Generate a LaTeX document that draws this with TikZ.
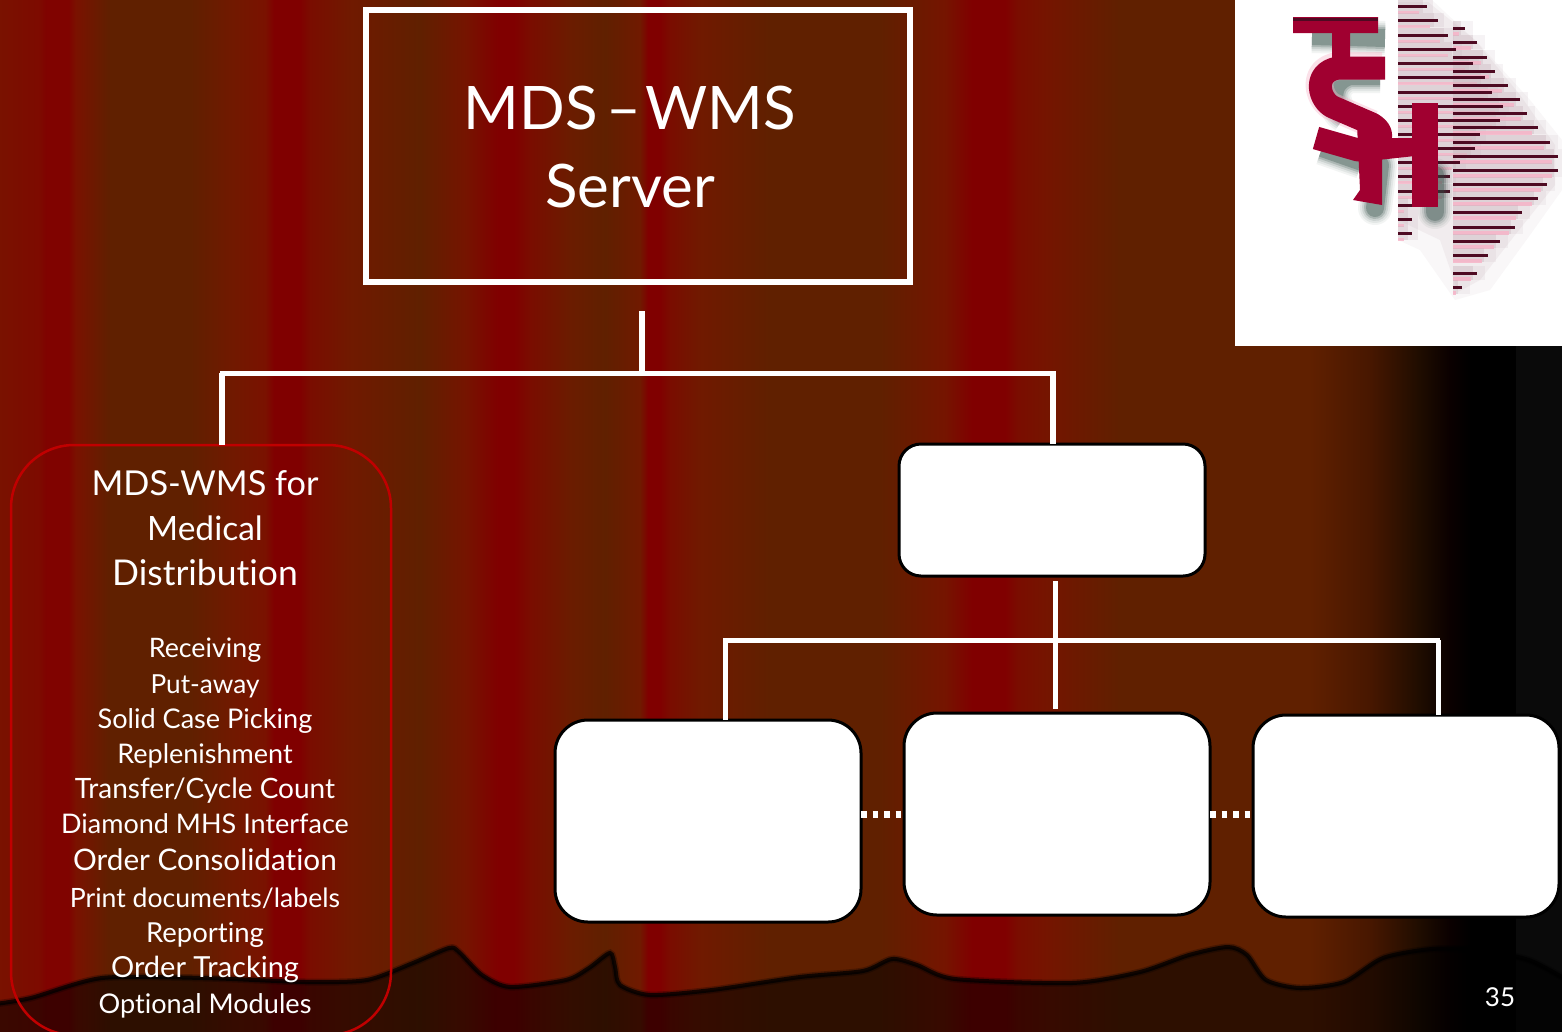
\documentclass[tikz,border=0pt]{standalone}
\usepackage{fontspec}
\setmainfont{Lato}[Ligatures=NoCommon]
\pgfdeclarehorizontalshading{curtain}{1031pt}{
rgb(0pt)=(.478,.07,0);rgb(40pt)=(.49,.04,0);rgb(46pt)=(.50,.01,0);rgb(68pt)=(.50,.01,0);rgb(76pt)=(.478,.07,0);rgb(110pt)=(.376,.125,0);rgb(190pt)=(.376,.125,0);rgb(230pt)=(.44,.10,0);rgb(265pt)=(.478,.07,0);rgb(274pt)=(.502,0,0);rgb(300pt)=(.502,0,0);rgb(310pt)=(.478,.05,0);rgb(350pt)=(.44,.10,0);rgb(420pt)=(.376,.125,0);rgb(465pt)=(.46,.08,0);rgb(498pt)=(.502,0,0);rgb(514pt)=(.502,0,0);rgb(530pt)=(.478,.05,0);rgb(570pt)=(.42,.11,0);rgb(605pt)=(.376,.125,0);rgb(640pt)=(.44,.10,0);rgb(648pt)=(.502,0,0);rgb(660pt)=(.502,0,0);rgb(670pt)=(.478,.05,0);rgb(700pt)=(.44,.10,0);rgb(770pt)=(.376,.125,0);rgb(880pt)=(.376,.125,0);rgb(945pt)=(.46,.08,0);rgb(972pt)=(.502,0,0);rgb(1005pt)=(.502,0,0);rgb(1018pt)=(.478,.05,0);rgb(1045pt)=(.46,.08,0);rgb(1120pt)=(.376,.125,0);rgb(1310pt)=(.376,.125,0);rgb(1370pt)=(.28,.09,0);rgb(1420pt)=(.12,.05,0);rgb(1450pt)=(.04,0,0);rgb(1470pt)=(0,0,0);rgb(1515pt)=(0,0,0);rgb(1516pt)=(.04,.04,.04);rgb(1562pt)=(.04,.04,.04)}
\definecolor{tsired}{HTML}{A00030}
\definecolor{tsidark}{HTML}{4E0A22}
\definecolor{tsipink}{HTML}{F7B4C8}
\definecolor{tsigray}{HTML}{C8B4BC}
\definecolor{tsishadow}{HTML}{2E4A42}
\tikzset{
 every node/.style={outer sep=0},
 conn/.style={draw=white,line width=5pt},
 bigconn/.style={draw=white,line width=6pt},
 dotconn/.style={draw=white,line width=7pt,dash pattern=on 5.5pt off 6pt},
 whitebox/.style={draw=black,line width=3pt,fill=white,rounded corners=33pt,minimum width=306pt,minimum height=202pt,inner sep=0,anchor=north west},
 txt/.style={text=white,font=\fontsize{#1}{#1}\selectfont,anchor=base,inner sep=0},
}
\begin{document}
\begin{tikzpicture}[x=1pt,y=-1pt]
\useasboundingbox (0,0) rectangle (1562,1031);
\clip (0,0) rectangle (1562,1031);
\fill[black!0!red!48!black] (0,0) rectangle (3,1031);
\node[inner sep=0,anchor=north west] (bg) at (0,0) {\pgfuseshading{curtain}};
% ---- stage floor
\fill[black,opacity=.52] plot[smooth,tension=.45] coordinates {(-5,1004)(31,998)(102,978)(204,978)(306,982)(367,980)(413,963)(449,948)(459,952)(482,975)(510,987)(566,980)(589,968)(610,953)(615,967)(620,985)(650,995)(712,990)(800,977)(863,971)(892,959)(917,965)(955,979)(1072,983)(1140,972)(1189,955)(1228,947)(1247,955)(1266,980)(1300,988)(1344,982)(1383,958)(1432,949)(1480,950)(1529,960)(1567,980)} -- (1567,1036) -- (-5,1036) -- cycle;
\draw[black,line width=7pt,opacity=.25] plot[smooth,tension=.45] coordinates {(-5,1004)(31,998)(102,978)(204,978)(306,982)(367,980)(413,963)(449,948)(459,952)(482,975)(510,987)(566,980)(589,968)(610,953)(615,967)(620,985)(650,995)(712,990)(800,977)(863,971)(892,959)(917,965)(955,979)(1072,983)(1140,972)(1189,955)(1228,947)(1247,955)(1266,980)(1300,988)(1344,982)(1383,958)(1432,949)(1480,950)(1529,960)(1567,980)};
\draw[black,line width=4pt,opacity=.75] plot[smooth,tension=.45] coordinates {(-5,1004)(31,998)(102,978)(204,978)(306,982)(367,980)(413,963)(449,948)(459,952)(482,975)(510,987)(566,980)(589,968)(610,953)(615,967)(620,985)(650,995)(712,990)(800,977)(863,971)(892,959)(917,965)(955,979)(1072,983)(1140,972)(1189,955)(1228,947)(1247,955)(1266,980)(1300,988)(1344,982)(1383,958)(1432,949)(1480,950)(1529,960)(1567,980)};
% ---- server
\node[draw=white,line width=6pt,minimum width=544pt,minimum height=272pt,inner sep=0,anchor=north west] (server) at (366,10) {};
\node[txt=60] (st1) at (630,129) {MDS\hspace{9pt}–\hspace{4pt}WMS};
\node[txt=60] (st2) at (630,207) {Server};
% ---- boxes
\node[draw={rgb,255:red,192;green,0;blue,0},line width=2.5pt,rounded corners=63pt,minimum width=380pt,minimum height=590pt,inner sep=0,anchor=north west] (lb) at (11,445) {};
\node[whitebox,rounded corners=22pt,minimum height=132pt] (rb) at (899,444) {};
\node[whitebox] (c1) at (555,720) {};
\node[whitebox] (c2) at (904,713) {};
\node[whitebox] (c3) at (1253,715) {};
% ---- connectors
\coordinate (stemtop) at (642,311);
\coordinate (j1) at (642,373);
\coordinate (j1l) at (222,373);
\coordinate (j1r) at (1053,373);
\coordinate (stem2) at (1055,581);
\coordinate (j2l) at (725,640);
\coordinate (j2r) at (1438,640);
\coordinate (mid2) at (1055,709);
\draw[bigconn] (stemtop) -- (j1);
\draw[conn] (220,373) -- (1056,373);
\draw[bigconn] (j1l) -- (j1l |- lb.north);
\draw[bigconn] (j1r) -- (j1r |- rb.north);
\draw[conn] (stem2) -- (mid2);
\draw[conn] (723,640) -- (1440,640);
\draw[conn] (j2l) -- (j2l |- c1.north);
\draw[conn] (j2r) -- (j2r |- c3.north);
\draw[dotconn] (c1.east |- 0,814) -- (c2.west |- 0,814);
\draw[dotconn] (c2.east |- 0,814) -- (c3.west |- 0,814);
% ---- left text
\node[txt=34.3] (h1) at (205,495) {MDS-WMS for};
\node[txt=33.5] (h2) at (205,540) {Medical};
\node[txt=35.5] (h3) at (205,585) {Distribution};
\node[txt=26.8] (i1) at (205,657) {Receiving};
\node[txt=26.2] (i2) at (205,693) {Put-away};
\node[txt=27.1] (i3) at (205,728) {Solid Case Picking};
\node[txt=27] (i4) at (205,763) {Replenishment};
\node[txt=28] (i5) at (205,798) {Transfer/Cycle Count};
\node[txt=27] (i6) at (205,833) {Diamond MHS Interface};
\node[txt=29.7] (i7) at (205,870) {Order Consolidation};
\node[txt=26.6] (i8) at (205,907) {Print documents/labels};
\node[txt=27.5] (i9) at (205,942) {Reporting};
\node[txt=29] (i10) at (205,977) {Order Tracking};
\node[txt=27.1] (i11) at (205,1013) {Optional Modules};
\node[txt=26] (pg) at (1500,1006) {35};
% ---- logo
\fill[white] (1235,0) rectangle (1562,346);
\begin{scope}
 % soft bands behind the stripes, tapering in steps
 \fill[tsigray,opacity=.10] (1398,0) -- (1432,0) -- (1480,45) -- (1530,100) -- (1562,140) -- (1562,190) -- (1530,235) -- (1490,290) -- (1455,300) -- (1420,250) -- (1398,240) -- cycle;
 \fill[tsigray,opacity=.16] (1398,2) -- (1428,2) -- (1475,40) -- (1520,95) -- (1555,145) -- (1555,185) -- (1515,235) -- (1480,280) -- (1458,292) -- (1440,240) -- (1398,220) -- cycle;
 \foreach \y/\e in {6/1427,20/1438,35/1448,49/1456,63/1473,77/1485,92/1492,106/1503,120/1500,134/1480,148/1475,162/1460,176/1450,191/1450,205/1412,219/1412,233/1412} {
  \draw[tsigray,line width=14pt,opacity=.2] (1398,\y) -- (\e+6,\y);
  \draw[tsigray,line width=14pt,opacity=.3] (1398,\y) -- (\e-4,\y);
  \draw[tsipink,line width=3pt,opacity=.8] (1398,\y+6) -- (\e-8,\y+6);
 }
 \foreach \y/\e in {28/1465,42/1477,57/1487,71/1495,85/1508,99/1520,113/1527,127/1538,142/1550,156/1558,170/1558,184/1547,198/1538,212/1522,227/1515,241/1500,255/1488,273/1477,287/1462} {
  \draw[tsigray,line width=14pt,opacity=.15] (1453,\y) -- (\e+8,\y);
  \draw[tsigray,line width=14pt,opacity=.35] (1453,\y) -- (\e-4,\y);
  \draw[tsipink,line width=3.5pt,opacity=.85] (1453,\y+6) -- (\e-6,\y+6);
 }
 \foreach \y/\e in {6/1427,20/1438,35/1448,49/1456,63/1473,77/1485,92/1492,106/1503,120/1500,134/1480,148/1475,162/1460,176/1450,191/1450,205/1412,219/1412,233/1412} \draw[tsidark,line width=3pt] (1398,\y) -- (\e,\y);
 \foreach \y/\e in {28/1465,42/1477,57/1487,71/1495,85/1508,99/1520,113/1527,127/1538,142/1550,156/1558,170/1558,184/1547,198/1538,212/1522,227/1515,241/1500,255/1488,273/1477,287/1462} \draw[tsidark,line width=3pt] (1453,\y) -- (\e,\y);
 % blurred shadow of the letters
 \foreach \w/\o in {34/.06,30/.08,26/.12,22/.2,18/.3} {
 \draw[tsishadow,line width=\w pt,opacity=\o,line join=round] (1380,76) -- (1350,76) .. controls (1325,84) and (1335,112) .. (1345,116);
 \draw[tsishadow,line width=\w pt,opacity=\o,line join=round] (1322,148) -- (1362,162);
 \draw[tsishadow,line width=\w pt,opacity=\o,line cap=round] (1380,165) -- (1375,208);
 \draw[tsishadow,line width=\w pt,opacity=\o,line cap=round] (1435,175) -- (1435,212);
 \draw[tsishadow,line width=\w pt,opacity=\o] (1312,36) -- (1385,38);
 }
 % pink halo
 \draw[tsipink,line width=28pt,opacity=.4,line join=round] (1382,66) -- (1338,66) .. controls (1310,70) and (1318,102) .. (1335,108) -- (1372,124);
 % letters
 \fill[tsired] (1293,17) -- (1378,17) -- (1378,33) -- (1350,33) -- (1350,62) -- (1332,62) -- (1332,33) -- (1293,33) -- cycle;
 \draw[tsired,line width=23pt,line join=round] (1385,68) -- (1338,68) .. controls (1312,72) and (1318,102) .. (1335,108) -- (1372,124) .. controls (1390,135) and (1378,150) .. (1358,150) -- (1316,138);
 \fill[tsired] (1357,125) -- (1382,125) -- (1382,205) -- (1353,200) -- (1360,190) -- cycle;
 \fill[tsired] (1412,103) -- (1438,103) -- (1438,207) -- (1412,207) -- cycle;
 \fill[tsired] (1378,138) -- (1415,138) -- (1415,156) -- (1378,160) -- cycle;
 \draw[tsidark,line width=3pt] (1293,19) -- (1378,19);
\end{scope}
\end{tikzpicture}
\end{document}
